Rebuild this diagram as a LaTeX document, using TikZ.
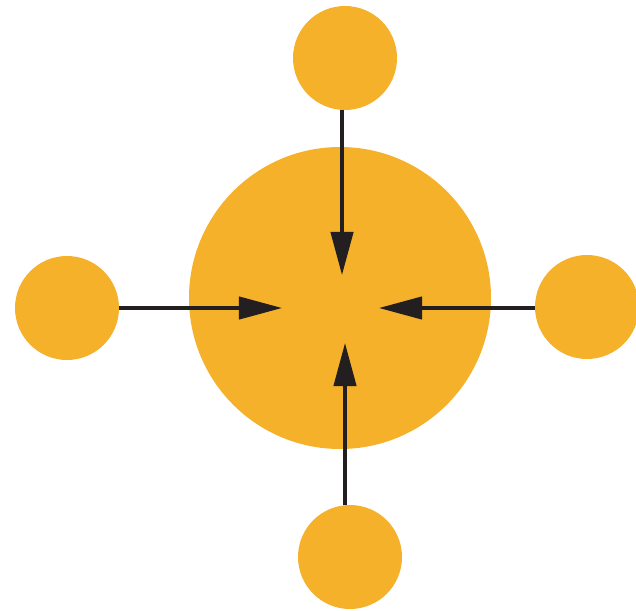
\documentclass[tikz,border=0pt]{standalone}
\usepackage{tikz}
\usepackage{xcolor}
\usetikzlibrary{arrows.meta}
\definecolor{hubgold}{HTML}{F5B12A}
\definecolor{hubdark}{HTML}{231F20}
\tikzset{
  hub/.style    ={circle, fill=hubgold, draw=none, inner sep=0pt,
                  minimum size=302*0.025cm},
  sat/.style    ={circle, fill=hubgold, draw=none, inner sep=0pt,
                  minimum size=104*0.025cm},
  inflow/.style ={-{Triangle[length=1.08cm, width=0.56cm]}, draw=hubdark,
                  fill=hubdark, line width=2.4pt},
}

\begin{document}
\begin{tikzpicture}[x=0.025cm, y=-0.025cm]
  \useasboundingbox (0,0) rectangle (636,610);

  \node[hub] (hub) at (340,298) {};

  \node[sat] (top)    at (345,58)  {};
  \node[sat] (left)   at (67,308)  {};
  \node[sat] (right)  at (587,307) {};
  \node[sat] (bottom) at (350,557) {};

  % arrow tips inside the hub
  \coordinate (tipT) at (342,275);
  \coordinate (tipL) at (282,308);
  \coordinate (tipR) at (379,308);
  \coordinate (tipB) at (345,343);

  \draw[inflow] (top.south -| tipT) -- (tipT);
  \draw[inflow] (left.east |- tipL) -- (tipL);
  \draw[inflow] (right.west |- tipR) -- (tipR);
  \draw[inflow] (bottom.north -| tipB) -- (tipB);

\end{tikzpicture}
\end{document}
